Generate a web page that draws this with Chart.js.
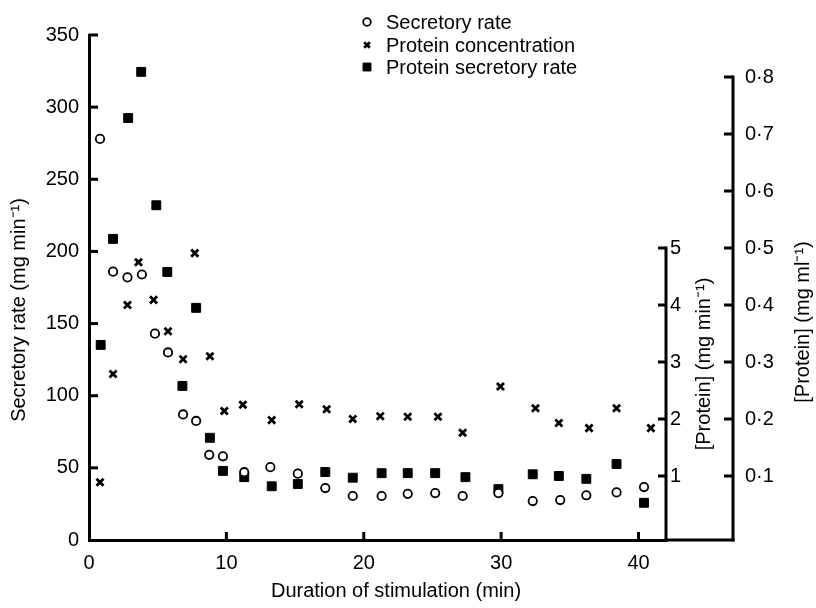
<!DOCTYPE html>
<html>
<head>
<meta charset="utf-8">
<script src="https://cdn.jsdelivr.net/npm/chart.js@4"></script>
<style>
html,body{margin:0;padding:0;background:#fff;}
#wrap{width:816px;height:608px;}
</style>
</head>
<body>
<div id="wrap"><canvas id="c" width="816" height="608"></canvas></div>
<script>
// ---- data ----
const timeRate = [0.8,1.75,2.8,3.85,4.8,5.75,6.85,7.8,8.75,9.75,11.3,13.2,15.2,17.2,19.2,21.3,23.2,25.2,27.2,29.8,32.3,34.3,36.2,38.4,40.4];
const secretoryRate = [278,186,182,184,143,130,87,82.5,59,58,47,50.5,46,36,30.5,30.5,32,32.5,30.5,32.5,27,27.7,31,33,36.7];

const timeConc = [0.8,1.75,2.8,3.6,4.7,5.75,6.85,7.7,8.8,9.85,11.2,13.3,15.3,17.3,19.2,21.2,23.2,25.4,27.2,29.95,32.5,34.2,36.4,38.4,40.9];
const proteinConc = [0.089,0.279,0.40,0.475,0.409,0.354,0.305,0.491,0.31,0.214,0.225,0.198,0.226,0.217,0.20,0.205,0.204,0.204,0.176,0.257,0.219,0.193,0.184,0.219,0.184];

const timeProt = [0.85,1.75,2.85,3.8,4.9,5.7,6.8,7.8,8.8,9.75,11.3,13.3,15.2,17.2,19.2,21.3,23.2,25.2,27.4,29.8,32.3,34.2,36.2,38.4,40.4];
const proteinRate = [3.3,5.16,7.28,8.09,5.75,4.58,2.58,3.95,1.67,1.09,0.98,0.82,0.86,1.07,0.97,1.05,1.05,1.05,0.98,0.77,1.03,1.0,0.95,1.21,0.53];

const seriesNames = ['Secretory rate','Protein concentration','Protein secretory rate'];

const timeTicks = [0,10,20,30,40];
const rateTicks = [0,50,100,150,200,250,300,350];
const protTicks = [1,2,3,4,5];
const concTicks = [0.1,0.2,0.3,0.4,0.5,0.6,0.7,0.8];
const concTickLabels = ['0·1','0·2','0·3','0·4','0·5','0·6','0·7','0·8'];

const xTitle = 'Duration of stimulation (min)';
const yTitle = 'Secretory rate (mg min⁻¹)';
const protTitle = '[Protein] (mg min⁻¹)';
const concTitle = '[Protein] (mg ml⁻¹)';

// ---- chart ----
const FONT = "'Liberation Sans', Arial, Helvetica, sans-serif";
Chart.defaults.font.family = FONT;
Chart.defaults.color = '#000';

function pts(xs, ys){ return xs.map((x,i)=>({x:x, y:ys[i]})); }

const noGrid = {display:false, drawOnChartArea:false, drawTicks:false, tickLength:0};

const axisPlugin = {
  id:'axisExtras',
  afterDraw(chart){
    const ctx = chart.ctx;
    const ca = chart.chartArea;
    const sx = chart.scales.x, sy = chart.scales.y;
    const sp = chart.scales.yProt, sc = chart.scales.yConc;
    ctx.save();
    ctx.fillStyle = '#000';
    const lw = 3, h = lw / 2;
    const bottom = Math.round(ca.bottom);
    // x axis continues to the outer right axis
    ctx.fillRect(ca.right - h, bottom - h, sc.left - ca.right + lw, lw);
    // inner right axis (0-5)
    const pTop = sp.getPixelForValue(protTicks[protTicks.length-1]);
    ctx.fillRect(sp.left - h, pTop - h, lw, bottom - pTop + lw);
    // outer right axis (0-0.8)
    const cTop = sc.getPixelForValue(concTicks[concTicks.length-1]);
    ctx.fillRect(sc.left - h, cTop - h, lw, bottom - cTop + lw);

    // tick marks (pointing inwards / to the left)
    rateTicks.forEach(v => { if (v === 0) return; const y = sy.getPixelForValue(v); ctx.fillRect(ca.left, y - h, 9, lw); });
    timeTicks.forEach(v => { if (v === 0) return; const x = sx.getPixelForValue(v); ctx.fillRect(x - h, bottom - 8, lw, 8); });
    protTicks.forEach(v => { const y = sp.getPixelForValue(v); ctx.fillRect(sp.left - 8, y - h, 8, lw); });
    concTicks.forEach(v => { const y = sc.getPixelForValue(v); ctx.fillRect(sc.left - 9, y - h, 9, lw); });

    // axis titles
    ctx.textAlign = 'center';
    ctx.textBaseline = 'middle';
    ctx.font = '20px ' + FONT;
    ctx.fillText(xTitle, 396, 591);
    const vt = (t, x, y) => { ctx.save(); ctx.translate(x, y); ctx.rotate(-Math.PI/2); ctx.fillText(t, 0, 0); ctx.restore(); };
    vt(yTitle, 19, 310);
    vt(protTitle, 704, 364);
    vt(concTitle, 803, 322);

    // legend
    ctx.font = '20px ' + FONT;
    ctx.textAlign = 'left';
    const rows = [22, 45, 67];
    chart.data.datasets.forEach((ds, i) => {
      const y = rows[i], x = 367;
      const r = ds.pointStyle === 'crossRot' ? 4 : (ds.pointStyle === 'rect' ? 5.6 : 3.8);
      const o = {pointStyle: ds.pointStyle, radius: r, borderWidth: ds.borderWidth, rotation:0};
      ctx.fillStyle = ds.backgroundColor; ctx.strokeStyle = ds.borderColor; ctx.lineWidth = ds.borderWidth;
      if (Chart.helpers && Chart.helpers.drawPoint) {
        Chart.helpers.drawPoint(ctx, o, x, y);
      }
      ctx.fillStyle = '#000';
      ctx.fillText(ds.label, 386, y + 1);
    });
    ctx.restore();
  }
};

new Chart(document.getElementById('c'), {
  type:'scatter',
  data:{
    datasets:[
      {label:seriesNames[0], data:pts(timeRate, secretoryRate), yAxisID:'y',
       pointStyle:'circle', pointRadius:4.2, pointHoverRadius:4.2, borderWidth:1.8, borderColor:'#000', backgroundColor:'#fff', clip:false},
      {label:seriesNames[1], data:pts(timeConc, proteinConc), yAxisID:'yConc',
       pointStyle:'crossRot', pointRadius:5, pointHoverRadius:5, borderWidth:2.8, borderColor:'#000', backgroundColor:'#000', clip:false},
      {label:seriesNames[2], data:pts(timeProt, proteinRate), yAxisID:'yProt',
       pointStyle:'rect', pointRadius:6.3, pointHoverRadius:6.3, borderWidth:1, borderColor:'#000', backgroundColor:'#000', clip:false}
    ]
  },
  options:{
    responsive:false,
    animation:false,
    devicePixelRatio:1,
    events:[],
    layout:{padding:{top:35, left:0, right:0, bottom:0}},
    plugins:{legend:{display:false}, tooltip:{enabled:false}, title:{display:false}},
    scales:{
      x:{type:'linear', min:0, max:42,
         afterBuildTicks:(s)=>{ s.ticks = timeTicks.map(v=>({value:v})); },
         afterFit:(s)=>{ s.height = 68; },
         border:{display:true, color:'#000', width:3},
         grid:noGrid,
         ticks:{color:'#000', font:{size:20}, padding:11, maxRotation:0, autoSkip:false}},
      y:{type:'linear', position:'left', min:0, max:350,
         afterBuildTicks:(s)=>{ s.ticks = rateTicks.map(v=>({value:v})); },
         afterFit:(s)=>{ s.width = 89; },
         border:{display:true, color:'#000', width:3},
         grid:noGrid,
         ticks:{color:'#000', font:{size:20}, padding:10, autoSkip:false}},
      yProt:{type:'linear', position:'right', weight:1, min:-0.1228, max:8.737,
         afterBuildTicks:(s)=>{ s.ticks = protTicks.map(v=>({value:v})); },
         afterFit:(s)=>{ s.width = 67; },
         border:{display:false},
         grid:noGrid,
         ticks:{color:'#000', font:{size:20}, padding:4, autoSkip:false}},
      yConc:{type:'linear', position:'right', weight:2, min:-0.01228, max:0.8737,
         afterBuildTicks:(s)=>{ s.ticks = concTicks.map(v=>({value:v})); },
         afterFit:(s)=>{ s.width = 83; },
         border:{display:false},
         grid:noGrid,
         ticks:{color:'#000', font:{size:20}, padding:12, autoSkip:false,
                callback:(v)=>{ const i = concTicks.findIndex(t=>Math.abs(t-v)<1e-9); return i>=0 ? concTickLabels[i] : ''; }}}
    }
  },
  plugins:[axisPlugin]
});
</script>
</body>
</html>
